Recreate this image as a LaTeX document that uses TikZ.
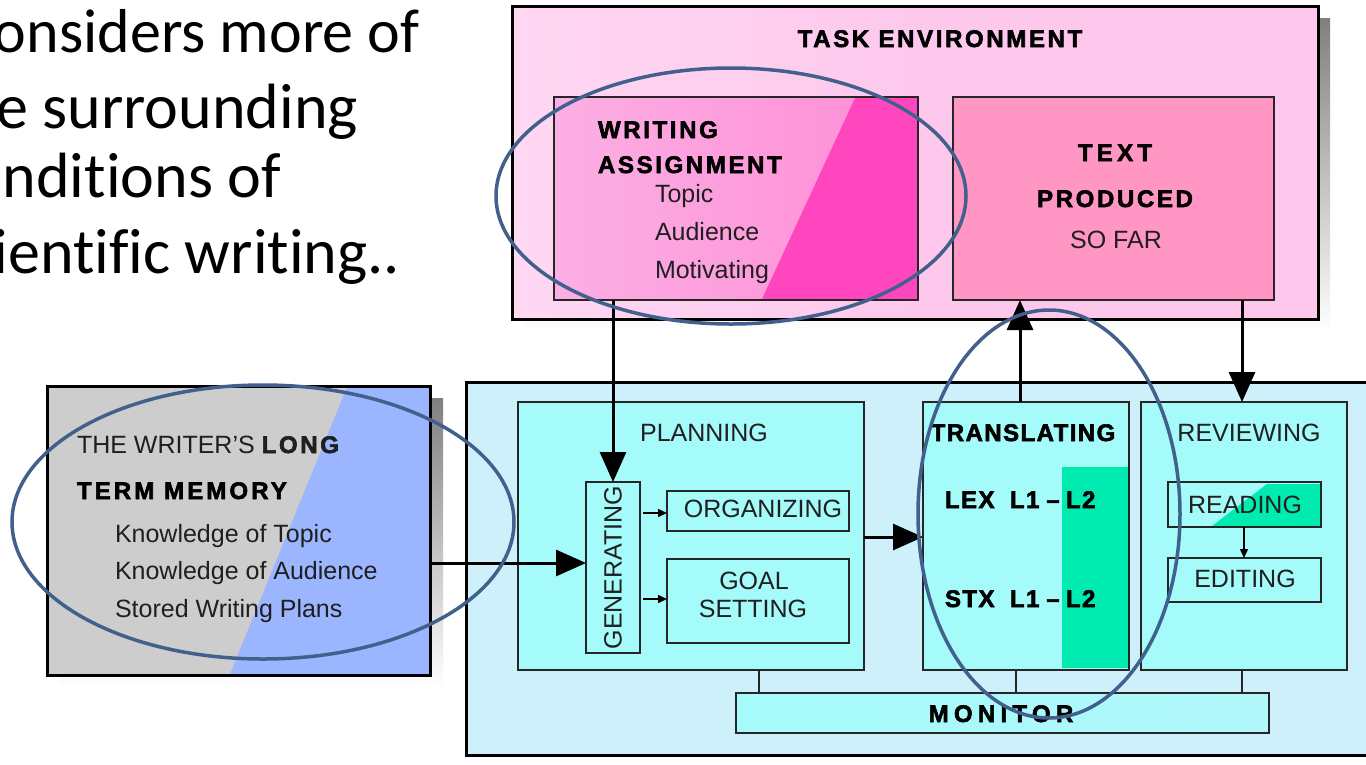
\documentclass[tikz,border=0pt]{standalone}
\usepackage{fontspec}
\setmainfont{Liberation Sans}
\newfontfamily\slidefont[Ligatures=NoCommon]{Carlito}
\newfontfamily\headfont[LetterSpace=11, FakeBold=2.5]{Liberation Sans Bold}
\usetikzlibrary{arrows.meta,fit}

\definecolor{taskbg}{RGB}{253,200,236}
\definecolor{taskbgl}{RGB}{255,216,242}
\definecolor{walight}{RGB}{252,175,228}
\definecolor{wamid}{RGB}{255,140,214}
\definecolor{wadark}{RGB}{255,70,190}
\definecolor{tpfill}{RGB}{255,150,196}
\definecolor{ltmgray}{RGB}{205,205,205}
\definecolor{ltmblue}{RGB}{155,182,255}
\definecolor{procbg}{RGB}{205,240,250}
\definecolor{aqua}{RGB}{165,250,250}
\definecolor{mint}{RGB}{0,235,175}
\definecolor{shade}{RGB}{128,128,128}
\definecolor{ring}{RGB}{65,97,140}

\newcommand\lblfont{\fontsize{25}{30}\selectfont}
\newcommand\hdfont{\headfont\fontsize{24}{28}\selectfont}
\newcommand\slidesize{\slidefont\fontsize{64}{76}\selectfont}

\begin{document}
\begin{tikzpicture}[x=1pt,y=-1pt,
  frame/.style={draw=black, line width=3pt, inner sep=0pt, outer sep=0pt},
  subbox/.style={draw=black!85, line width=1.4pt, inner sep=0pt, outer sep=0pt},
  lbl/.style={inner sep=0pt, outer sep=0pt, font=\lblfont, text=black!88},
  hd/.style={inner sep=0pt, outer sep=0pt, font=\hdfont, text=black},
  slide/.style={inner sep=0pt, outer sep=0pt, font=\slidesize, anchor=base east},
  bigarrow/.style={line width=3pt, -{Triangle[length=30pt,width=26pt]}},
  smallarrow/.style={line width=1.4pt, -{Triangle[length=9pt,width=8pt]}},
  tie/.style={line width=1.4pt, draw=black!85},
  ringline/.style={draw=ring, line width=3.5pt}]

\useasboundingbox (0,0) rectangle (1366,764);
\clip (0,0) rectangle (1366,764);
\fill[white] (0,0) rectangle (1366,764);

% slide text at the upper left
\node[slide, anchor=base west, font=\slidefont\fontsize{62}{74}\selectfont] (s1) at (-6,52) {onsiders more of};
\node[slide] (s2) at (358,128) {e surrounding};
\node[slide] (s3) at (281,197) {nditions of};
\node[slide] (s4) at (400,273) {ientific writing..};

% ---- task environment ----
\fill[shade] (524,18) rectangle (1330,331);
\node[frame, fit={(512,6) (1318,319)}, left color=taskbgl, right color=taskbg, middle color=taskbg] (task) {};
\node[hd, anchor=base] at (940,47) {TASK ENVIRONMENT};

\node[subbox, fit={(554,97) (918,300)}, left color=walight, right color=wamid] (wa) {};
\fill[wadark] (855,98) -- (917,98) -- (917,299) -- (762,299) -- cycle;
\draw[draw=black!85, line width=1.4pt] (wa.north west) rectangle (wa.south east);
\node[hd, anchor=base west] at (598,138) {WRITING};
\node[hd, anchor=base west] at (598,173) {ASSIGNMENT};
\node[lbl, anchor=base west] at (655,202) {Topic};
\node[lbl, anchor=base west] at (655,240) {Audience};
\node[lbl, anchor=base west] at (655,278) {Motivating};

\node[subbox, fit={(953,97) (1274,300)}, fill=tpfill] (tp) {};
\node[hd, anchor=base] at (1115,161) {\addfontfeatures{LetterSpace=18}TEXT};
\node[hd, anchor=base] at (1115,207) {PRODUCED};
\node[lbl, anchor=base] at (1116,248) {SO FAR};

% ---- long term memory ----
\fill[shade] (59,398) rectangle (443,687);
\node[frame, fit={(47,386) (430,675)}, fill=ltmgray] (ltm) {};
\fill[ltmblue] (347,387) -- (429,387) -- (429,674) -- (230,674) -- cycle;
\draw[black, line width=3pt] (ltm.north west) rectangle (ltm.south east);
\node[lbl, anchor=base west] at (77,453) {THE WRITER'S {\hdfont LONG}};
\node[hd, anchor=base west] at (77,499) {\addfontfeatures{LetterSpace=13}TERM MEMORY};
\node[lbl, anchor=base west] at (115,542) {Knowledge of Topic};
\node[lbl, anchor=base west] at (115,579) {Knowledge of Audience};
\node[lbl, anchor=base west] at (115,617) {Stored Writing Plans};

% ---- writing processes ----
\fill[shade] (478,394) rectangle (1390,768);
\node[frame, fit={(466,382) (1385,755)}, fill=procbg] (proc) {};

\node[subbox, fit={(518,402) (864,670)}, fill=aqua] (plan) {};
\node[lbl, anchor=base] at (704,441) {PLANNING};
\node[subbox, fit={(586,482) (640,653)}, fill=aqua] (gen) {};
\node[lbl, rotate=90] at (gen.center) {GENERATING};
\node[subbox, fit={(667,491) (849,531)}, fill=aqua] (org) {};
\node[lbl, anchor=base] at (763,517) {ORGANIZING};
\node[subbox, fit={(667,559) (849,643)}, fill=aqua] (goal) {};
\node[lbl, anchor=base] at (754,589) {GOAL};
\node[lbl, anchor=base] at (753,617) {SETTING};

\node[subbox, fit={(923,402) (1129,670)}, fill=aqua] (tr) {};
\fill[mint] (1062,467) rectangle (1128,668);
\node[hd, anchor=base] at (1023,441) {\addfontfeatures{LetterSpace=6}TRANSLATING};
\node[hd, anchor=base west] at (945,508) {\addfontfeatures{LetterSpace=6}LEX};
\node[hd, anchor=base west] at (1010,508) {\addfontfeatures{LetterSpace=6}L1};
\node[hd, anchor=base] at (1053,508) {–};
\node[hd, anchor=base west] at (1066,508) {\addfontfeatures{LetterSpace=6}L2};
\node[hd, anchor=base west] at (945,607) {\addfontfeatures{LetterSpace=6}STX};
\node[hd, anchor=base west] at (1010,607) {\addfontfeatures{LetterSpace=6}L1};
\node[hd, anchor=base] at (1053,607) {–};
\node[hd, anchor=base west] at (1066,607) {\addfontfeatures{LetterSpace=6}L2};

\node[subbox, fit={(1141,402) (1347,670)}, fill=aqua] (rev) {};
\node[lbl, anchor=base] at (1249,441) {REVIEWING};
\node[subbox, fit={(1168,482) (1321,527)}, fill=aqua] (read) {};
\fill[mint] (1267,484) -- (1320,484) -- (1320,526) -- (1212,526) -- cycle;
\draw[draw=black!85, line width=1.4pt] (read.north west) rectangle (read.south east);
\node[lbl, anchor=base] at (1245,513) {READING};
\node[subbox, fit={(1168,558) (1321,602)}, fill=aqua] (edit) {};
\node[lbl, anchor=base] at (1245,587) {EDITING};

\node[subbox, fit={(736,693) (1269,733)}, left color=aqua, right color=aqua!70!procbg] (mon) {};
\node[hd, anchor=base] at (1001,722) {\addfontfeatures{LetterSpace=22}MONITOR};

% ---- connectors ----
\draw[tie] (plan.south -| 759,0) -- (mon.north -| 759,0);
\draw[tie] (tr.south -| 1016,0) -- (mon.north -| 1016,0);
\draw[tie] (rev.south -| 1242,0) -- (mon.north -| 1242,0);

\draw[bigarrow] (wa.south -| gen.north) -- (gen.north);
\draw[bigarrow] (ltm.east |- 0,563) -- (gen.west |- 0,563);
\draw[bigarrow] (plan.east |- 0,537) -- (tr.west |- 0,537);
\draw[bigarrow] (tr.north -| 1020,0) -- (tp.south -| 1020,0);
\draw[bigarrow] (tp.south -| 1242,0) -- (rev.north -| 1242,0);
\draw[smallarrow] (gen.east |- 0,513) ++(3,0) -- (org.west |- 0,513);
\draw[smallarrow] (gen.east |- 0,599) ++(3,0) -- (goal.west |- 0,599);
\draw[smallarrow] (read.south -| 1244,0) -- (edit.north -| 1244,0);

% ---- highlight rings ----
\draw[ringline] (731,196) ellipse [x radius=235, y radius=128];
\draw[ringline] (263,522) ellipse [x radius=251, y radius=137];
\draw[ringline] (1049,514) ellipse [x radius=131, y radius=204];
\end{tikzpicture}
\end{document}
